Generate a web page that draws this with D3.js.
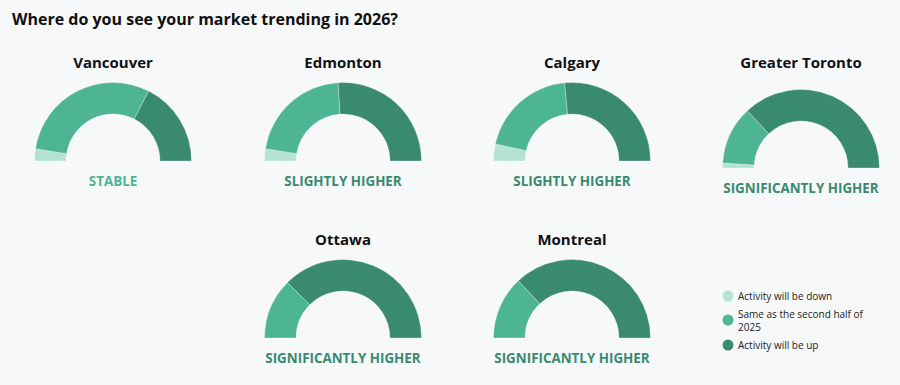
<!DOCTYPE html>
<html>
<head>
<meta charset="utf-8">
<script src="https://cdn.jsdelivr.net/npm/d3@7"></script>
<style>
  body { margin: 0; background: #f7f8fa; font-family: "Open Sans", sans-serif; }
  svg { display: block; }
</style>
</head>
<body>
<div id="chart"></div>
<script>
// survey shares (%) per market
const cities = ['Vancouver', 'Edmonton', 'Calgary', 'Greater Toronto', 'Ottawa', 'Montreal'];
const down = [5, 5, 7, 2, 0, 0];
const same = [60, 43, 40, 24, 25, 26];
const up = [35, 52, 53, 74, 75, 74];
const verdicts = ['STABLE', 'SLIGHTLY HIGHER', 'SLIGHTLY HIGHER', 'SIGNIFICANTLY HIGHER', 'SIGNIFICANTLY HIGHER', 'SIGNIFICANTLY HIGHER'];
const categories = ['Activity will be down', 'Same as the second half of 2025', 'Activity will be up'];
const colors = ['#b4e2d4', '#4db594', '#398a6f'];

const width = 900, height = 385;
const svg = d3.select('#chart').append('svg')
    .attr('width', width)
    .attr('height', height);

svg.append('text')
    .attr('x', 12)
    .attr('y', 25)
    .style('font-size', '16px')
    .style('font-weight', 700)
    .attr('fill', '#111')
    .text('Where do you see your market trending in 2026?');

// where each gauge sits (center x, baseline y, title y)
const slots = [
    {x: 113, y: 161, ty: 68},
    {x: 343, y: 161, ty: 68},
    {x: 572, y: 161, ty: 68},
    {x: 801, y: 168, ty: 68},
    {x: 343, y: 338, ty: 245},
    {x: 572, y: 338, ty: 245}
];

const pie = d3.pie()
    .sort(null)
    .startAngle(-Math.PI / 2)
    .endAngle(Math.PI / 2)
    .value(d => d);
const arc = d3.arc()
    .innerRadius(47)
    .outerRadius(78.5);

for (let i = 0; i < cities.length; i++) {
    let s = slots[i];
    let vals = [down[i], same[i], up[i]];
    let g = svg.append('g')
        .attr('transform', 'translate(' + s.x + ',' + s.ty + ')');
    g.append('text')
        .attr('text-anchor', 'middle')
        .style('font-size', '15px')
        .style('font-weight', 700)
        .attr('fill', '#111')
        .text(cities[i]);

    let gauge = svg.append('g')
        .attr('transform', 'translate(' + s.x + ',' + s.y + ')');
    gauge.selectAll('path')
        .data(pie(vals))
        .enter()
        .append('path')
        .attr('d', arc)
        .attr('fill', (d, j) => colors[j])
        .attr('stroke', '#ffffff')
        .attr('stroke-opacity', 0.5)
        .attr('stroke-width', 0.6);

    let top = d3.maxIndex(vals);
    gauge.append('text')
        .attr('y', 25)
        .attr('text-anchor', 'middle')
        .style('font-size', '13.4px')
        .style('font-weight', 700)
        .attr('fill', colors[top])
        .text(verdicts[i]);
}

// legend
const legendRows = [
    {lines: ['Activity will be down'], y: 296},
    {lines: ['Same as the second half of', '2025'], y: 320},
    {lines: ['Activity will be up'], y: 345}
];
const legend = svg.append('g').attr('transform', 'translate(728,0)');
legendRows.forEach((r, i) => {
    legend.append('circle')
        .attr('cx', 0)
        .attr('cy', r.y)
        .attr('r', 5.5)
        .attr('fill', colors[i]);
    let t = legend.append('text')
        .attr('x', 10)
        .attr('y', r.lines.length > 1 ? r.y - 2.5 : r.y + 3.5)
        .style('font-size', '10px')
        .attr('fill', '#222');
    r.lines.forEach((l, k) => {
        t.append('tspan')
            .attr('x', 10)
            .attr('dy', k === 0 ? 0 : 13.8)
            .text(l);
    });
});
</script>
</body>
</html>
